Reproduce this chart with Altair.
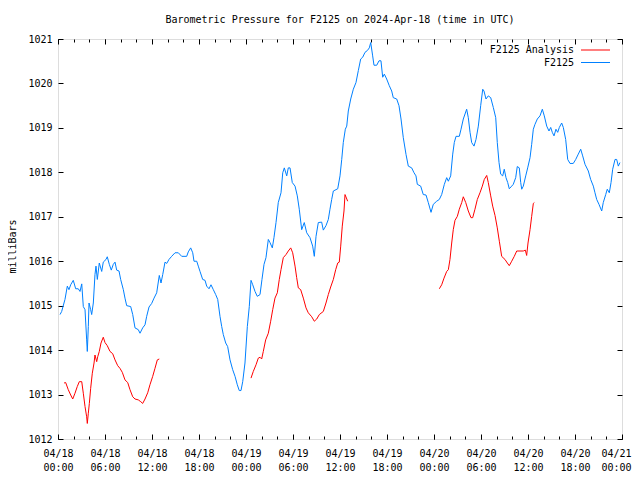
import altair as alt
import pandas as pd

# ---- data (hours since 2024-04-18 00:00 UTC, pressure in mb) ----
blue_t = [0.26, 0.47, 0.89, 1.19, 1.40, 1.62, 1.95, 2.26, 2.59, 2.81, 3.03, 3.23, 3.45, 3.66, 3.74,
          3.87, 3.96, 4.17, 4.30, 4.51, 4.72, 4.85, 5.02, 5.27, 5.58, 5.78, 6.13, 6.29, 6.55, 6.80,
          7.06, 7.28, 7.49, 7.79, 8.00, 8.34, 8.55, 8.77, 9.28, 9.54, 9.83, 10.25, 10.47, 10.81,
          11.11, 11.32, 11.62, 11.96, 12.26, 12.60, 12.93, 13.15, 13.37, 13.66, 13.88, 14.17, 14.51,
          14.94, 15.36, 15.79, 16.43, 16.63, 16.94, 17.20, 17.36, 17.71, 17.91, 18.13, 18.47, 18.77,
          18.98, 19.28, 19.53, 19.83, 20.13, 20.39, 20.68, 20.90, 21.10, 21.41, 21.66, 21.96, 22.30,
          22.60, 22.89, 23.14, 23.36, 23.58, 23.87, 24.17, 24.42, 24.64, 24.86, 25.15, 25.44, 25.79,
          26.04, 26.30, 26.55, 26.85, 27.06, 27.36, 27.57, 27.83, 28.00, 28.12, 28.47, 28.69, 28.89,
          29.20, 29.40, 29.62, 29.91, 30.26, 30.55, 30.80, 31.11, 31.44, 31.75, 32.17, 32.51, 32.72,
          32.94, 33.23, 33.66, 33.87, 34.21, 34.51, 34.72, 34.94, 35.15, 35.71, 36.00, 36.22, 36.42,
          36.68, 36.86, 37.06, 37.37, 37.70, 38.04, 38.34, 38.64, 38.90, 39.19, 39.49, 39.74, 39.92,
          40.17, 40.34, 40.69, 40.98, 41.23, 41.45, 41.66, 41.96, 42.29, 42.60, 42.80, 43.24, 43.53,
          43.79, 44.08, 44.43, 44.72, 45.15, 45.45, 45.70, 45.87, 46.30, 46.63, 46.98, 47.27, 47.62,
          47.91, 48.34, 48.68, 48.98, 49.32, 49.62, 49.83, 50.13, 50.39, 50.59, 50.81, 51.23, 51.45,
          51.74, 52.17, 52.38, 52.60, 52.81, 53.11, 53.36, 53.66, 53.96, 54.22, 54.38, 54.64, 54.93,
          55.24, 55.57, 55.88, 56.08, 56.30, 56.51, 56.77, 56.97, 57.19, 57.41, 57.61, 57.92, 58.12,
          58.43, 58.63, 58.89, 59.07, 59.20, 59.40, 59.71, 59.96, 60.26, 60.47, 60.68, 60.89, 61.19,
          61.53, 61.83, 62.08, 62.39, 62.68, 62.90, 63.10, 63.32, 63.57, 63.79, 64.00, 64.30, 64.51,
          64.81, 65.07, 65.36, 65.78, 66.09, 66.42, 66.73, 66.98, 67.28, 67.70, 68.00, 68.34, 68.55,
          68.77, 69.06, 69.41, 69.61, 69.92, 70.12, 70.38, 70.60, 70.81, 71.11, 71.32, 71.53, 71.74]
blue_p = [1014.80, 1014.87, 1015.14, 1015.44, 1015.36, 1015.47, 1015.57, 1015.38, 1015.38, 1015.32,
          1015.49, 1014.98, 1014.91, 1014.23, 1013.97, 1014.53, 1015.06, 1014.91, 1014.80, 1015.06,
          1015.70, 1015.89, 1015.59, 1015.96, 1015.77, 1015.98, 1016.04, 1016.10, 1015.93, 1015.80,
          1015.93, 1015.98, 1015.80, 1015.78, 1015.59, 1015.36, 1015.17, 1015.00, 1014.98, 1014.80,
          1014.50, 1014.46, 1014.38, 1014.50, 1014.57, 1014.76, 1014.97, 1015.05, 1015.17, 1015.29,
          1015.68, 1015.51, 1015.70, 1015.98, 1015.95, 1016.04, 1016.11, 1016.19, 1016.19, 1016.11,
          1016.11, 1016.21, 1016.30, 1016.19, 1016.00, 1016.00, 1015.89, 1015.77, 1015.59, 1015.57,
          1015.44, 1015.38, 1015.47, 1015.36, 1015.25, 1015.14, 1014.76, 1014.53, 1014.35, 1014.16,
          1014.08, 1013.78, 1013.56, 1013.41, 1013.22, 1013.09, 1013.09, 1013.29, 1013.71, 1014.53,
          1014.98, 1015.57, 1015.47, 1015.32, 1015.21, 1015.25, 1015.59, 1015.93, 1016.08, 1016.49,
          1016.42, 1016.30, 1016.53, 1016.87, 1017.13, 1017.32, 1017.54, 1017.99, 1018.10, 1017.92,
          1018.10, 1018.10, 1017.77, 1017.69, 1017.47, 1017.17, 1016.71, 1016.87, 1016.64, 1016.53,
          1016.34, 1016.11, 1016.56, 1016.87, 1016.88, 1016.70, 1016.80, 1016.94, 1017.17, 1017.39,
          1017.58, 1017.63, 1017.92, 1018.29, 1018.67, 1018.97, 1019.04, 1019.38, 1019.65, 1019.87,
          1020.02, 1020.29, 1020.55, 1020.59, 1020.70, 1020.74, 1020.80, 1020.92, 1020.62, 1020.41,
          1020.41, 1020.51, 1020.51, 1020.14, 1020.21, 1020.10, 1019.95, 1019.83, 1019.68, 1019.65,
          1019.50, 1019.20, 1018.78, 1018.40, 1018.14, 1018.10, 1017.99, 1017.92, 1017.73, 1017.69,
          1017.50, 1017.49, 1017.32, 1017.10, 1017.28, 1017.35, 1017.39, 1017.50, 1017.73, 1017.88,
          1017.80, 1017.92, 1018.41, 1018.67, 1018.81, 1018.81, 1018.97, 1019.20, 1019.42, 1019.23,
          1018.90, 1018.67, 1018.59, 1018.74, 1019.04, 1019.50, 1019.87, 1019.83, 1019.65, 1019.72,
          1019.68, 1019.46, 1019.23, 1018.67, 1018.22, 1017.96, 1017.92, 1018.07, 1017.88, 1017.77,
          1017.63, 1017.69, 1017.73, 1017.88, 1018.13, 1018.10, 1017.77, 1017.62, 1017.69, 1017.92,
          1018.10, 1018.33, 1018.63, 1018.97, 1019.08, 1019.20, 1019.27, 1019.42, 1019.27, 1019.04,
          1018.93, 1019.01, 1018.90, 1018.82, 1018.97, 1018.90, 1019.01, 1019.11, 1019.01, 1018.74,
          1018.29, 1018.20, 1018.20, 1018.29, 1018.41, 1018.52, 1018.37, 1018.18, 1018.03, 1017.84,
          1017.69, 1017.54, 1017.39, 1017.28, 1017.13, 1017.32, 1017.50, 1017.62, 1017.54, 1017.77,
          1018.07, 1018.29, 1018.29, 1018.14, 1018.22]

red_t = [0.77, 0.98, 1.31, 1.62, 1.88, 2.17, 2.46, 2.72, 3.03, 3.23, 3.45, 3.66, 3.74, 3.87, 4.00,
         4.17, 4.38, 4.60, 4.72, 4.94, 5.07, 5.27, 5.49, 5.78, 6.00, 6.29, 6.64, 6.98, 7.28, 7.62,
         7.91, 8.21, 8.55, 8.90, 9.19, 9.54, 9.83, 10.25, 10.56, 10.81, 11.11, 11.45, 11.74, 12.09,
         12.38, 12.68, 12.93,
         24.64, 24.93, 25.28, 25.57, 25.79, 26.00, 26.21, 26.51, 26.85, 27.15, 27.41, 27.70, 28.00,
         28.25, 28.47, 28.76, 29.11, 29.40, 29.71, 29.96, 30.26, 30.47, 30.68, 30.98, 31.32, 31.66,
         31.95, 32.39, 32.72, 33.03, 33.36, 33.87, 34.21, 34.51, 34.81, 35.15, 35.45, 35.71, 35.91,
         36.09, 36.29, 36.51, 36.64, 36.98,
         48.68, 48.98, 49.28, 49.62, 49.83, 50.04, 50.26, 50.46, 50.68, 50.98, 51.23, 51.54, 51.74,
         52.05, 52.38, 52.72, 52.94, 53.23, 53.53, 53.87, 54.17, 54.42, 54.73, 54.93, 55.24, 55.49,
         55.79, 56.08, 56.34, 56.64, 57.06, 57.36, 57.61, 57.92, 58.25, 58.56, 58.98, 59.40, 59.66,
         59.83, 60.00, 60.26, 60.47, 60.68, 60.81]
red_p = [1013.26, 1013.27, 1013.11, 1012.99, 1012.90, 1013.03, 1013.18, 1013.29, 1013.29, 1013.03,
         1012.73, 1012.50, 1012.35, 1012.58, 1012.80, 1013.14, 1013.48, 1013.71, 1013.89, 1013.74,
         1013.85, 1013.97, 1014.16, 1014.29, 1014.17, 1014.10, 1013.97, 1013.92, 1013.78, 1013.65,
         1013.59, 1013.50, 1013.33, 1013.27, 1013.11, 1012.95, 1012.90, 1012.88, 1012.84, 1012.80,
         1012.90, 1013.04, 1013.22, 1013.41, 1013.59, 1013.78, 1013.80,
         1013.37, 1013.52, 1013.67, 1013.82, 1013.84, 1013.80, 1013.97, 1014.23, 1014.38, 1014.65,
         1014.91, 1015.17, 1015.29, 1015.59, 1015.81, 1016.08, 1016.15, 1016.23, 1016.30, 1016.19,
         1015.89, 1015.63, 1015.40, 1015.36, 1015.17, 1014.95, 1014.84, 1014.75, 1014.65, 1014.70,
         1014.80, 1014.87, 1015.06, 1015.25, 1015.42, 1015.59, 1015.81, 1015.96, 1015.98, 1016.34,
         1016.79, 1017.13, 1017.50, 1017.35,
         1015.38, 1015.47, 1015.62, 1015.77, 1015.81, 1016.04, 1016.41, 1016.71, 1016.92, 1017.01,
         1017.17, 1017.32, 1017.45, 1017.32, 1017.13, 1016.98, 1016.98, 1017.17, 1017.39, 1017.54,
         1017.69, 1017.84, 1017.93, 1017.77, 1017.47, 1017.24, 1017.03, 1016.75, 1016.45, 1016.11,
         1016.04, 1015.96, 1015.90, 1016.00, 1016.11, 1016.23, 1016.23, 1016.23, 1016.25, 1016.13,
         1016.41, 1016.71, 1017.01, 1017.30, 1017.32]
red_seg = [1] * 47 + [2] * 44 + [3] * 45

series_names = ["F2125 Analysis", "F2125"]
series_colors = ["#ff0000", "#0080ff"]
major_x = list(range(0, 73, 6))
minor_x = list(range(0, 73, 2))
y_ticks = list(range(1012, 1022))

rows = []
for t, p in zip(blue_t, blue_p):
    rows.append({"h": t, "p": p, "series": "F2125", "seg": "b"})
for t, p, s in zip(red_t, red_p, red_seg):
    rows.append({"h": t, "p": p, "series": "F2125 Analysis", "seg": "r%d" % s})
df = pd.DataFrame(rows)

FONT = "DejaVu Sans Mono"
xscale = alt.Scale(domain=[0, 72], nice=False, zero=False)
yscale = alt.Scale(domain=[1012, 1021], nice=False, zero=False)

label_expr = ("['04/' + (18 + floor(datum.value / 24)), "
              "(datum.value % 24 < 10 ? '0' : '') + (datum.value % 24) + ':00']")

lines = alt.Chart(df).mark_line(strokeWidth=1, clip=True).encode(
    x=alt.X("h:Q", scale=xscale, axis=alt.Axis(
        values=major_x, labelExpr=label_expr, offset=-5, tickSize=5, domain=False, grid=False,
        title=None, labelFont=FONT, labelFontSize=10, labelPadding=9, tickColor="black",
        labelColor="black", labelAlign="center", labelBaseline="top", labelLineHeight=14,
        labelOffset={"condition": {"test": "datum.value >= 72", "value": -6}, "value": 0},
        labelFlush=False, labelOverlap=False)),
    y=alt.Y("p:Q", scale=yscale, axis=alt.Axis(
        values=y_ticks, offset=-5, tickSize=5, domain=False, grid=False, title="milliBars",
        titleFont=FONT, titleFontSize=10, titleFontWeight="normal", titleColor="black",
        labelFont=FONT, labelFontSize=10, labelPadding=6, labelColor="black", tickColor="black",
        format="d", titlePadding=10, titleY=207, labelFlush=False, labelOverlap=False)),
    color=alt.Color("series:N", scale=alt.Scale(domain=series_names, range=series_colors),
                    legend=None),
    detail="seg:N",
)


def tick_layer(x_axis, y_axis):
    return alt.Chart(df).mark_point(opacity=0).encode(
        x=alt.X("h:Q", scale=xscale, axis=x_axis),
        y=alt.Y("p:Q", scale=yscale, axis=y_axis),
    )


common = dict(domain=False, grid=False, labels=False, title=None, tickColor="black")
bottom_minor = tick_layer(alt.Axis(values=minor_x, orient="bottom", offset=-3, tickSize=3, **common),
                          alt.Axis(values=y_ticks, orient="right", offset=-5, tickSize=5, **common))
top_major = tick_layer(alt.Axis(values=major_x, orient="top", offset=-5, tickSize=5, **common), None)
top_minor = tick_layer(alt.Axis(values=minor_x, orient="top", offset=-3, tickSize=3, **common), None)

# ---- manual legend (label to the left of its line sample, like gnuplot) ----
legend_layers = []
for i, (name, col) in enumerate(zip(series_names, series_colors)):
    ypos = 11 + i * 12.5
    legend_layers.append(
        alt.Chart(pd.DataFrame({"name": [name]})).mark_text(
            align="right", baseline="middle", font=FONT, fontSize=10, color="black"
        ).encode(text="name:N", x=alt.value(516), y=alt.value(ypos))
    )
    legend_layers.append(
        alt.Chart(pd.DataFrame({"name": [name]})).mark_rule(color=col, strokeWidth=1).encode(
            x=alt.value(523), x2=alt.value(552), y=alt.value(ypos)
        )
    )

chart = alt.layer(lines, bottom_minor, top_major, top_minor, *legend_layers).resolve_axis(
    x="independent", y="independent"
).properties(
    width=564, height=400,
    autosize=alt.AutoSizeParams(type="none"),
    padding={"left": 50, "top": 31, "right": 10, "bottom": 33},
    title=alt.TitleParams("Barometric Pressure for F2125 on 2024-Apr-18 (time in UTC)",
                          font=FONT, fontSize=10, fontWeight="normal", color="black",
                          anchor="middle", offset=9),
).configure_view(stroke="black", strokeWidth=1).configure(background="white")

chart.save("out.html", embed_options={"renderer": "svg", "actions": False})
